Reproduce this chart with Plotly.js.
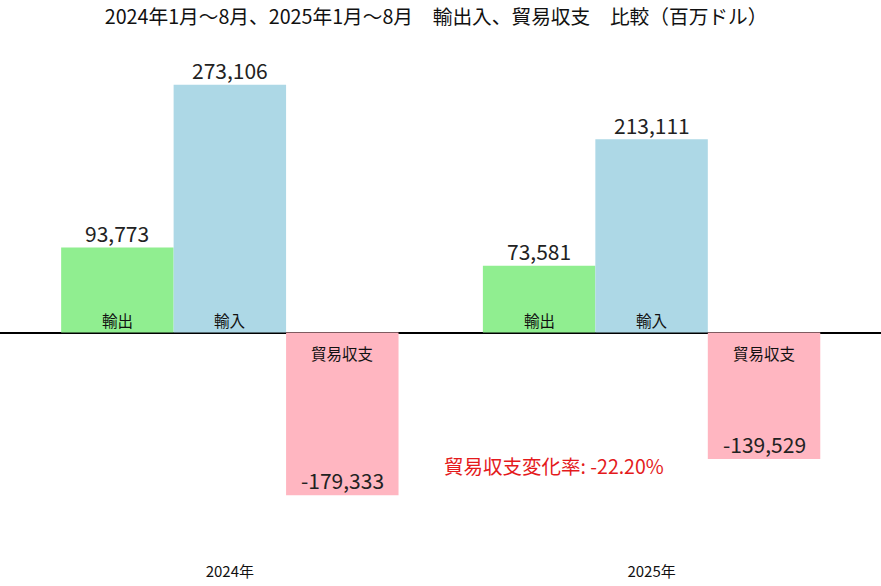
<!DOCTYPE html>
<html>
<head>
<meta charset="utf-8">
<script src="https://cdn.plot.ly/plotly-3.0.1.min.js"></script>
<style>html,body{margin:0;padding:0;background:#fff;}#chart{width:881px;height:586px;}</style>
</head>
<body>
<div id="chart"></div>
<script>
const categories = ['2024年', '2025年'];
const seriesNames = ['輸出', '輸入', '貿易収支'];
const exportsVals = [93773, 73581];
const importsVals = [273106, 213111];
const balanceVals = [-179333, -139529];
const titleText = '2024年1月～8月、2025年1月～8月　輸出入、貿易収支　比較（百万ドル）';
const changeLabel = '貿易収支変化率: ';

const colors = ['#90EE90', '#ADD8E6', '#FFB6C1'];
const FONT = '"Noto Sans CJK JP", "Noto Sans", sans-serif';
const series = [exportsVals, importsVals, balanceVals];
const fmt = v => v.toLocaleString('en-US');

const traces = series.map((vals, i) => ({
  type: 'bar',
  x: categories,
  y: vals,
  name: seriesNames[i],
  marker: {color: colors[i], line: {width: 0}},
  hoverinfo: 'skip'
}));

const bargap = 0.2;
const bw = (1 - bargap) / series.length;
const annotations = [];
series.forEach((vals, i) => {
  vals.forEach((v, j) => {
    const xc = j + (i - (series.length - 1) / 2) * bw;
    // name label near the zero line
    annotations.push({
      x: xc, y: 0, xref: 'x', yref: 'y',
      text: seriesNames[i], showarrow: false,
      yanchor: v >= 0 ? 'bottom' : 'top',
      yshift: v >= 0 ? 0 : -7,
      font: {family: FONT, size: 15.5, color: '#111'}
    });
    // value label at the bar end
    annotations.push({
      x: xc, y: v, xref: 'x', yref: 'y',
      text: fmt(v), showarrow: false,
      yanchor: 'bottom',
      yshift: v >= 0 ? -2.5 : -2,
      font: {family: FONT, size: 21, color: '#222'}
    });
  });
});
const pct = (balanceVals[1] - balanceVals[0]) / balanceVals[0] * 100;
annotations.push({
  x: 0.768, y: -147000, xref: 'x', yref: 'y',
  text: changeLabel + pct.toFixed(2) + '%', showarrow: false,
  xanchor: 'center', yanchor: 'middle',
  font: {family: FONT, size: 19.5, color: '#e41a1c'}
});

const layout = {
  width: 881, height: 586,
  margin: {l: 0, r: 0, t: 40, b: 25},
  paper_bgcolor: '#fff', plot_bgcolor: '#fff',
  barmode: 'group', bargap: bargap, bargroupgap: 0,
  showlegend: false,
  title: {text: titleText, x: 0.495, xanchor: 'center', y: 1 - 17/586, yref: 'container', yanchor: 'middle',
          font: {family: FONT, size: 19.7, color: '#111'}},
  xaxis: {type: 'category', range: [-0.545, 1.544], showgrid: false, zeroline: false, showline: false,
          ticks: '', tickfont: {family: FONT, size: 15, color: '#111'}, fixedrange: true},
  yaxis: {range: [-251846, 322385], showgrid: false, showticklabels: false, ticks: '',
          zeroline: true, zerolinecolor: '#000', zerolinewidth: 2, showline: false, fixedrange: true},
  annotations: annotations,
  font: {family: FONT}
};

Plotly.newPlot('chart', traces, layout, {displayModeBar: false, staticPlot: true});
</script>
</body>
</html>
